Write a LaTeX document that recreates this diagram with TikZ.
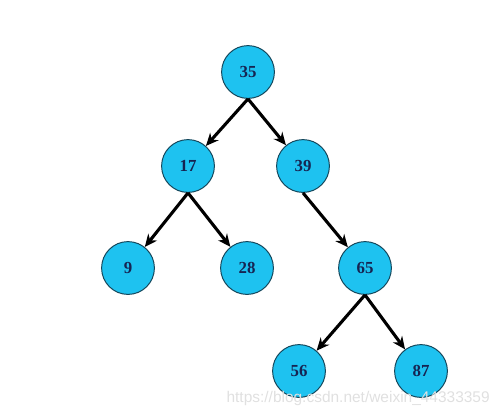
\documentclass[tikz,border=0pt]{standalone}
\usepackage{fontspec}
\setmainfont{Liberation Serif}
\newfontfamily\markfont{Liberation Sans}
\usetikzlibrary{arrows.meta}
\definecolor{nodeblue}{RGB}{30,194,240}
\definecolor{numblue}{RGB}{22,36,82}
\definecolor{rimblue}{RGB}{20,70,90}

\begin{document}
\begin{tikzpicture}[x=0.025cm,y=-0.025cm,
  key/.style={circle,draw=rimblue,line width=0.7pt,fill=nodeblue,minimum size=1.32cm,inner sep=0pt,text=numblue,font=\bfseries\fontsize{12}{12}\selectfont},
  link/.style={line width=2.2pt,-{Stealth[length=9pt,width=8pt]}}]
\useasboundingbox (0,0) rectangle (499,416);
\node[key] (k35) at (248,72) {35};
\node[key] (k17) at (188,166) {17};
\node[key] (k39) at (303,166) {39};
\node[key] (k9) at (128,268) {9};
\node[key] (k28) at (247,268) {28};
\node[key] (k65) at (365,268) {65};
\node[key] (k56) at (299,371) {56};
\node[key] (k87) at (421,371) {87};
\draw[link] (k35.south) -- (k17);
\draw[link] (k35.south) -- (k39);
\draw[link] (k17.south) -- (k9);
\draw[link] (k17.south) -- (k28);
\draw[link] (k39.south) -- (k65);
\draw[link] (k65.south) -- (k56);
\draw[link] (k65.south) -- (k87);
% faint watermark
\node[anchor=east,text=black!12,font=\markfont\fontsize{11}{11}\selectfont,inner sep=0pt] (mark) at (490,398) {https://blog.csdn.net/weixin\_44333359};
\end{tikzpicture}
\end{document}
